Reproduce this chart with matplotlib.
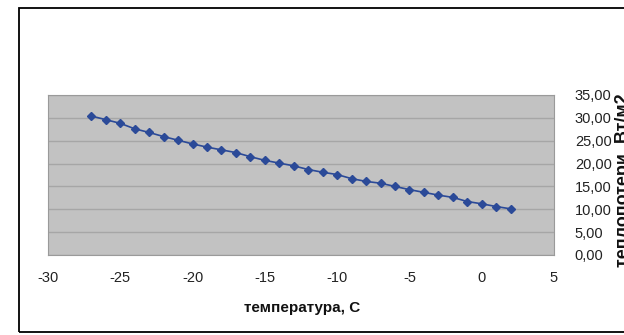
import matplotlib
matplotlib.use("Agg")
import matplotlib.pyplot as plt
from matplotlib.patches import Rectangle

# температура, C
temperatura = list(range(-27, 3))
# теплопотери, Вт/м2
teplopoteri = [30.4, 29.6, 28.8, 27.6, 26.8, 25.9, 25.1, 24.3, 23.6, 23.0,
               22.4, 21.5, 20.7, 20.1, 19.5, 18.7, 18.1, 17.6, 16.7, 16.1,
               15.7, 15.0, 14.3, 13.7, 13.1, 12.6, 11.7, 11.2, 10.6, 10.1]
xticks = [-30, -25, -20, -15, -10, -5, 0, 5]
yticks = [0, 5, 10, 15, 20, 25, 30, 35]

plt.rcParams['font.family'] = ['Liberation Sans', 'DejaVu Sans']
plt.rcParams['axes.unicode_minus'] = False

fig = plt.figure(figsize=(6.24, 3.35), dpi=100)
W, H = 624, 335

# рамка вокруг диаграммы
fig.patches.append(Rectangle((19 / W, 1 - 332 / H), 620 / W, 324 / H,
                             transform=fig.transFigure, fill=False,
                             edgecolor="black", linewidth=1.3))

ax = fig.add_axes([48 / W, 1 - 255 / H, 506 / W, 160 / H])
ax.set_facecolor("#c2c2c2")
ax.plot(temperatura, teplopoteri, color="#2b4a98", marker="D",
        markersize=4.5, linewidth=1.2)

ax.set_xlim(-30, 5)
ax.set_ylim(0, 35)
ax.set_xticks(xticks)
ax.set_yticks(yticks)
ax.set_yticklabels([f"{v:.2f}".replace(".", ",") for v in yticks])
ax.yaxis.tick_right()
ax.tick_params(axis="both", length=0, labelsize=10.5, colors="#222222")
ax.tick_params(axis="x", pad=11.5)
ax.tick_params(axis="y", pad=15)
ax.grid(axis="y", color="#a6a6a6", linewidth=1)
ax.set_axisbelow(True)
for s in ax.spines.values():
    s.set_color("#9a9a9a")

fig.text(302 / W, 1 - 308 / H, "температура, С", ha="center", va="center",
         fontsize=11, fontweight="bold", color="#111111")
# подпись оси справа, как в оригинале обрезана краем
fig.text(615 / W, 1 - 180 / H, "теплопотери, Вт/м2", ha="left", va="center",
         rotation=90, fontsize=13, fontweight="bold", color="#111111")

fig.savefig("out.png", dpi=100)
